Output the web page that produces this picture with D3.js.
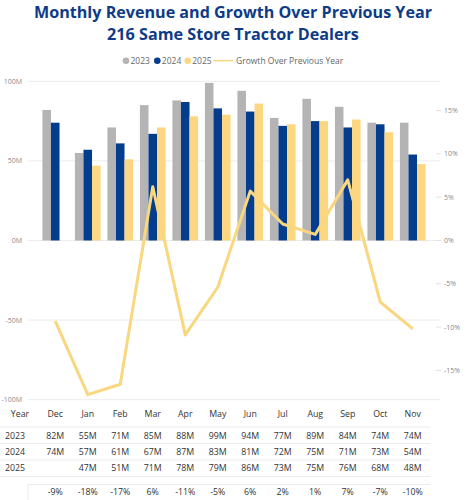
<!DOCTYPE html>
<html lang="en">
<head>
  <meta charset="UTF-8" />
  <title>Monthly Revenue and Growth Over Previous Year</title>
  <script src="https://d3js.org/d3.v7.min.js"></script>
  <style>
    body {
      margin: 0;
      padding: 0;
      background-color: #fff;
      font-family: "Open Sans", "Noto Sans", sans-serif;
    }
    svg { display: block; }
    .title {
      font-weight: 700;
      fill: #0e3b86;
    }
    .tick-label { fill: #8a8a8a; font-size: 7px; }
    .legend-text { fill: #666; font-size: 8.5px; }
    .table-text { fill: #333; font-size: 8.8px; }
  </style>
</head>
<body>
  <svg width="466" height="500"></svg>

  <script>
    const months = ["Dec", "Jan", "Feb", "Mar", "Apr", "May", "Jun", "Jul", "Aug", "Sep", "Oct", "Nov"];
    const years = ["2023", "2024", "2025"];
    const rev2023 = [82, 55, 71, 85, 88, 99, 94, 77, 89, 84, 74, 74];
    const rev2024 = [74, 57, 61, 67, 87, 83, 81, 72, 75, 71, 73, 54];
    const rev2025 = [null, 47, 51, 71, 78, 79, 86, 73, 75, 76, 68, 48];
    // growth line (table shows rounded values)
    const growth = [-9.3, -17.8, -16.6, 6.2, -10.9, -5.4, 5.7, 1.9, 0.7, 7.0, -7.1, -10.2];
    const growthLabels = ["-9%", "-18%", "-17%", "6%", "-11%", "-5%", "6%", "2%", "1%", "7%", "-7%", "-10%"];
    const leftTicks = [-100, -50, 0, 50, 100];
    const rightTicks = [-15, -10, -5, 0, 5, 10, 15];

    const colors = { "2023": "#b4b4b4", "2024": "#053d8e", "2025": "#fcd680" };
    const lineColor = "#f9d77f";

    const revenue = { "2023": rev2023, "2024": rev2024, "2025": rev2025 };

    const svg = d3.select("svg");

    // titles, scaled to fit the measured width
    const titles = [
      { text: "Monthly Revenue and Growth Over Previous Year", y: 17.5, w: 398 },
      { text: "216 Same Store Tractor Dealers", y: 40, w: 252 }
    ];
    titles.forEach(t => {
      const el = svg.append("text")
        .attr("class", "title")
        .attr("x", 233)
        .attr("y", t.y)
        .attr("text-anchor", "middle")
        .style("font-size", "20px")
        .text(t.text);
      const len = el.node().getComputedTextLength();
      el.style("font-size", (20 * t.w / len) + "px");
    });

    // legend
    const legend = svg.append("g").attr("class", "legend");
    const legendY = 60.7;
    years.forEach((yr, i) => {
      const cx = [126, 157.3, 187.7][i];
      legend.append("circle")
        .attr("cx", cx).attr("cy", legendY).attr("r", 3.3)
        .attr("fill", colors[yr]);
      legend.append("text")
        .attr("class", "legend-text")
        .attr("x", cx + 4.5).attr("y", legendY + 3)
        .text(yr);
    });
    legend.append("line")
      .attr("x1", 213).attr("x2", 233)
      .attr("y1", legendY).attr("y2", legendY)
      .attr("stroke", lineColor).attr("stroke-width", 1.5);
    legend.append("text")
      .attr("class", "legend-text")
      .attr("x", 236).attr("y", legendY + 3)
      .text("Growth Over Previous Year");

    // scales
    const plotTop = 81.3, plotBottom = 399.7;
    const x0 = d3.scaleBand().domain(months).range([39, 429]).paddingInner(0.21).paddingOuter(0.105);
    const x1 = d3.scaleBand().domain(years).range([0, x0.bandwidth()]);
    const yLeft = d3.scaleLinear().domain([-100, 100]).range([plotBottom, plotTop]);
    const yRight = d3.scaleLinear().domain([-18.38, 18.38]).range([plotBottom, plotTop]);

    // gridlines
    svg.append("g").selectAll("line")
      .data(leftTicks).join("line")
      .attr("x1", 28).attr("x2", 440)
      .attr("y1", d => yLeft(d)).attr("y2", d => yLeft(d))
      .attr("stroke", "#ececec").attr("stroke-width", 1);

    // left axis labels
    svg.append("g").selectAll("text")
      .data(leftTicks).join("text")
      .attr("class", "tick-label")
      .attr("x", 22).attr("y", d => yLeft(d) + 2.5)
      .attr("text-anchor", "end")
      .text(d => d + "M");

    // right axis
    const right = svg.append("g");
    right.selectAll("line")
      .data(rightTicks).join("line")
      .attr("x1", 436).attr("x2", 441)
      .attr("y1", d => yRight(d)).attr("y2", d => yRight(d))
      .attr("stroke", "#e2e2e2");
    right.selectAll("text")
      .data(rightTicks).join("text")
      .attr("class", "tick-label")
      .attr("x", 444).attr("y", d => yRight(d) + 2.5)
      .text(d => d + "%");

    // bars
    const groups = svg.append("g").selectAll("g")
      .data(months).join("g")
      .attr("transform", d => `translate(${x0(d)},0)`);
    groups.selectAll("rect")
      .data((m, i) => years.map(yr => ({ yr, v: revenue[yr][i] })).filter(d => d.v != null))
      .join("rect")
      .attr("x", d => x1(d.yr))
      .attr("width", x1.bandwidth())
      .attr("y", d => yLeft(d.v))
      .attr("height", d => yLeft(0) - yLeft(d.v))
      .attr("fill", d => colors[d.yr]);

    // growth line
    const line = d3.line()
      .x((d, i) => x0(months[i]) + x0.bandwidth() / 2)
      .y(d => yRight(d));
    svg.append("path")
      .datum(growth)
      .attr("d", line)
      .attr("fill", "none")
      .attr("stroke", lineColor)
      .attr("stroke-width", 3)
      .attr("stroke-linejoin", "round");

    // table below
    const table = svg.append("g");
    const colX = m => x0(m) + x0.bandwidth() / 2;
    const rowY = { header: 417.3, "2023": 438.8, "2024": 455.2, "2025": 471.4, growth: 494.8 };

    [427, 443.5, 460, 476.5].forEach(y => {
      table.append("line")
        .attr("x1", 0).attr("x2", 430)
        .attr("y1", y).attr("y2", y)
        .attr("stroke", "#ebebeb");
    });
    table.append("line")
      .attr("x1", 28).attr("x2", 430)
      .attr("y1", 484.5).attr("y2", 484.5)
      .attr("stroke", "#ebebeb");
    table.append("line")
      .attr("x1", 28).attr("x2", 28)
      .attr("y1", 484.5).attr("y2", 500)
      .attr("stroke", "#ebebeb");

    table.append("text")
      .attr("class", "table-text")
      .attr("x", 20).attr("y", rowY.header)
      .attr("text-anchor", "middle")
      .text("Year");
    table.append("g").selectAll("text")
      .data(months).join("text")
      .attr("class", "table-text")
      .attr("x", d => colX(d)).attr("y", rowY.header)
      .attr("text-anchor", "middle")
      .text(d => d);

    years.forEach(yr => {
      table.append("text")
        .attr("class", "table-text")
        .attr("x", 5).attr("y", rowY[yr])
        .text(yr);
      table.append("g").selectAll("text")
        .data(revenue[yr].map((v, i) => ({ v, m: months[i] })).filter(d => d.v != null))
        .join("text")
        .attr("class", "table-text")
        .attr("x", d => colX(d.m)).attr("y", rowY[yr])
        .attr("text-anchor", "middle")
        .text(d => d.v + "M");
    });

    table.append("g").selectAll("text")
      .data(growthLabels).join("text")
      .attr("class", "table-text")
      .attr("x", (d, i) => colX(months[i])).attr("y", rowY.growth)
      .attr("text-anchor", "middle")
      .text(d => d);
  </script>
</body>
</html>
